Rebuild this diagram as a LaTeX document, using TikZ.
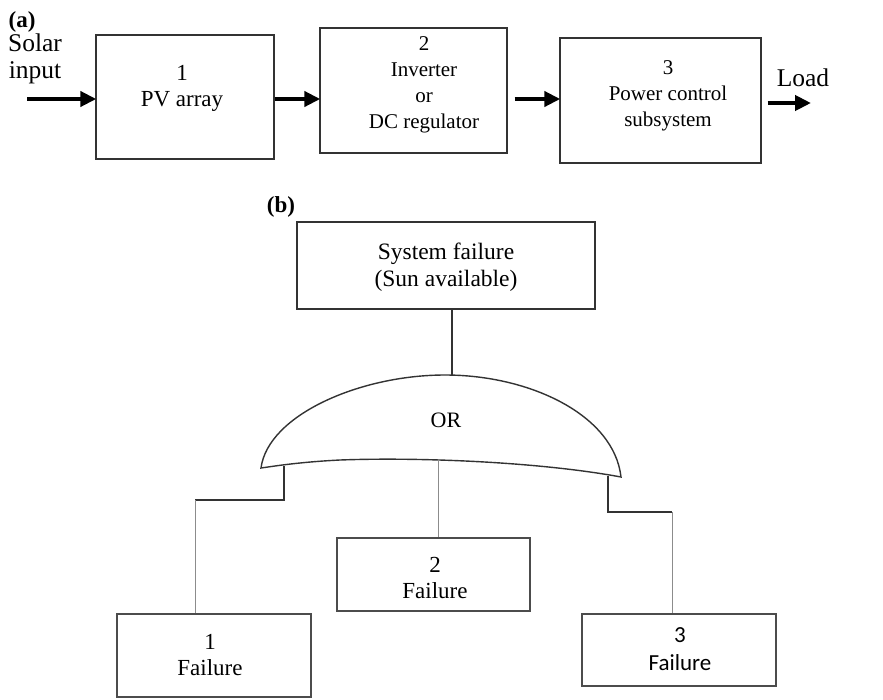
\documentclass[tikz,border=0pt]{standalone}
\usepackage{fontspec}
\setmainfont{Liberation Serif}
\newfontfamily\calibrifont{Carlito}
\usetikzlibrary{arrows.meta}
\begin{document}
\begin{tikzpicture}[x=1pt,y=-1pt,
  boxframe/.style={draw=black!80,line width=1.4pt,inner sep=0pt,fill=none},
  txt/.style={align=center,inner sep=0pt,font=\fontsize{21}{26}\selectfont},
  txtb/.style={align=center,inner sep=0pt,font=\fontsize{23}{26}\selectfont},
  flow/.style={line width=4pt,-{Triangle[length=16pt,width=15pt]},shorten >=-1pt},
  stub/.style={draw=black!80,line width=1.4pt},
  thin/.style={draw=black!45,line width=0.9pt}]
\useasboundingbox (0,0) rectangle (883,699);

% ---------- (a) block diagram ----------
\node[font=\fontsize{23}{26}\selectfont\bfseries,inner sep=0pt] (lab-a) at (22,22) {(a)};
\node[txt,font=\fontsize{25.5}{27}\selectfont] (solar) at (35,59) {Solar\\input};
\node[txt,font=\fontsize{25.5}{27}\selectfont] (load) at (803,78) {Load};

\node[boxframe,minimum width=178pt,minimum height=124pt] (b1) at (185,97) {};
\node[boxframe,minimum width=187pt,minimum height=125pt] (b2) at (413.5,90.5) {};
\node[boxframe,minimum width=201pt,minimum height=125pt] (b3) at (660.5,100.5) {};

\node[txt,font=\fontsize{23}{26}\selectfont] (t1) at (182,88) {1\\PV array};
\node[txt] (t2) at (424,85) {2\\Inverter\\or\\DC regulator};
\node[txt] (t3) at (668,96) {3\\Power control\\subsystem};

\coordinate (src) at (27,99);
\coordinate (snk) at (810,103);
\draw[flow] (src) -- (b1.west |- src);
\draw[flow] (b1.east |- 0,99) -- (b2.west |- 0,99);
\draw[flow] ([xshift=7pt]b2.east |- 0,99) -- (b3.west |- 0,99);
\draw[flow] ([xshift=6pt]b3.east |- snk) -- (snk);

% ---------- (b) fault tree ----------
\node[font=\fontsize{23}{26}\selectfont\bfseries,inner sep=0pt] (lab-b) at (281,207) {(b)};

\node[boxframe,minimum width=298pt,minimum height=87pt] (top) at (446,265.5) {};
\node[txtb,font=\fontsize{23.5}{27}\selectfont] (ttop) at (446,267) {System failure\\(Sun available)};

% OR gate outline
\coordinate (gl) at (261,468);
\coordinate (gtop) at (452,375);
\coordinate (gr) at (621,477);
\draw[stub] (gl) .. controls (268,415) and (360,375) .. (445,375)
            .. controls (530,375) and (614,415) .. (gr)
            .. controls (540,462) and (420,457) .. (340,460)
            .. controls (300,462) and (275,466) .. (gl) -- cycle;
\node[txt,font=\fontsize{22}{26}\selectfont] (or) at (446,420) {OR};

\draw[stub] (top.south -| gtop) -- (gtop);

% basic events
\node[boxframe,draw=black!70,line width=1.2pt,minimum width=194pt,minimum height=83pt] (f1) at (214,655.5) {};
\node[txtb] (tf1) at (210,655) {1\\Failure};
\node[boxframe,draw=black!70,line width=1.2pt,minimum width=193pt,minimum height=73pt] (f2) at (433.5,574.5) {};
\node[txtb] (tf2) at (435,578) {2\\Failure};
\node[boxframe,draw=black!70,line width=1.2pt,minimum width=194pt,minimum height=72pt] (f3) at (679,650) {};
\node[txtb,font=\fontsize{23}{28}\selectfont\calibrifont] (tf3) at (680,649) {3\\Failure};

% inputs to the gate
\coordinate (lstub) at (284,466);
\coordinate (lknee) at (195,500);
\coordinate (mstub) at (438,460);
\coordinate (rstub) at (608,476);
\coordinate (rknee) at (672,512);

\draw[stub] (lstub) |- (lknee);
\draw[thin] (lknee) -- (f1.north -| lknee);
\draw[thin] (mstub) -- (f2.north -| mstub);
\draw[stub] (rstub) |- (rknee);
\draw[thin] (rknee) -- (f3.north -| rknee);
\end{tikzpicture}
\end{document}
